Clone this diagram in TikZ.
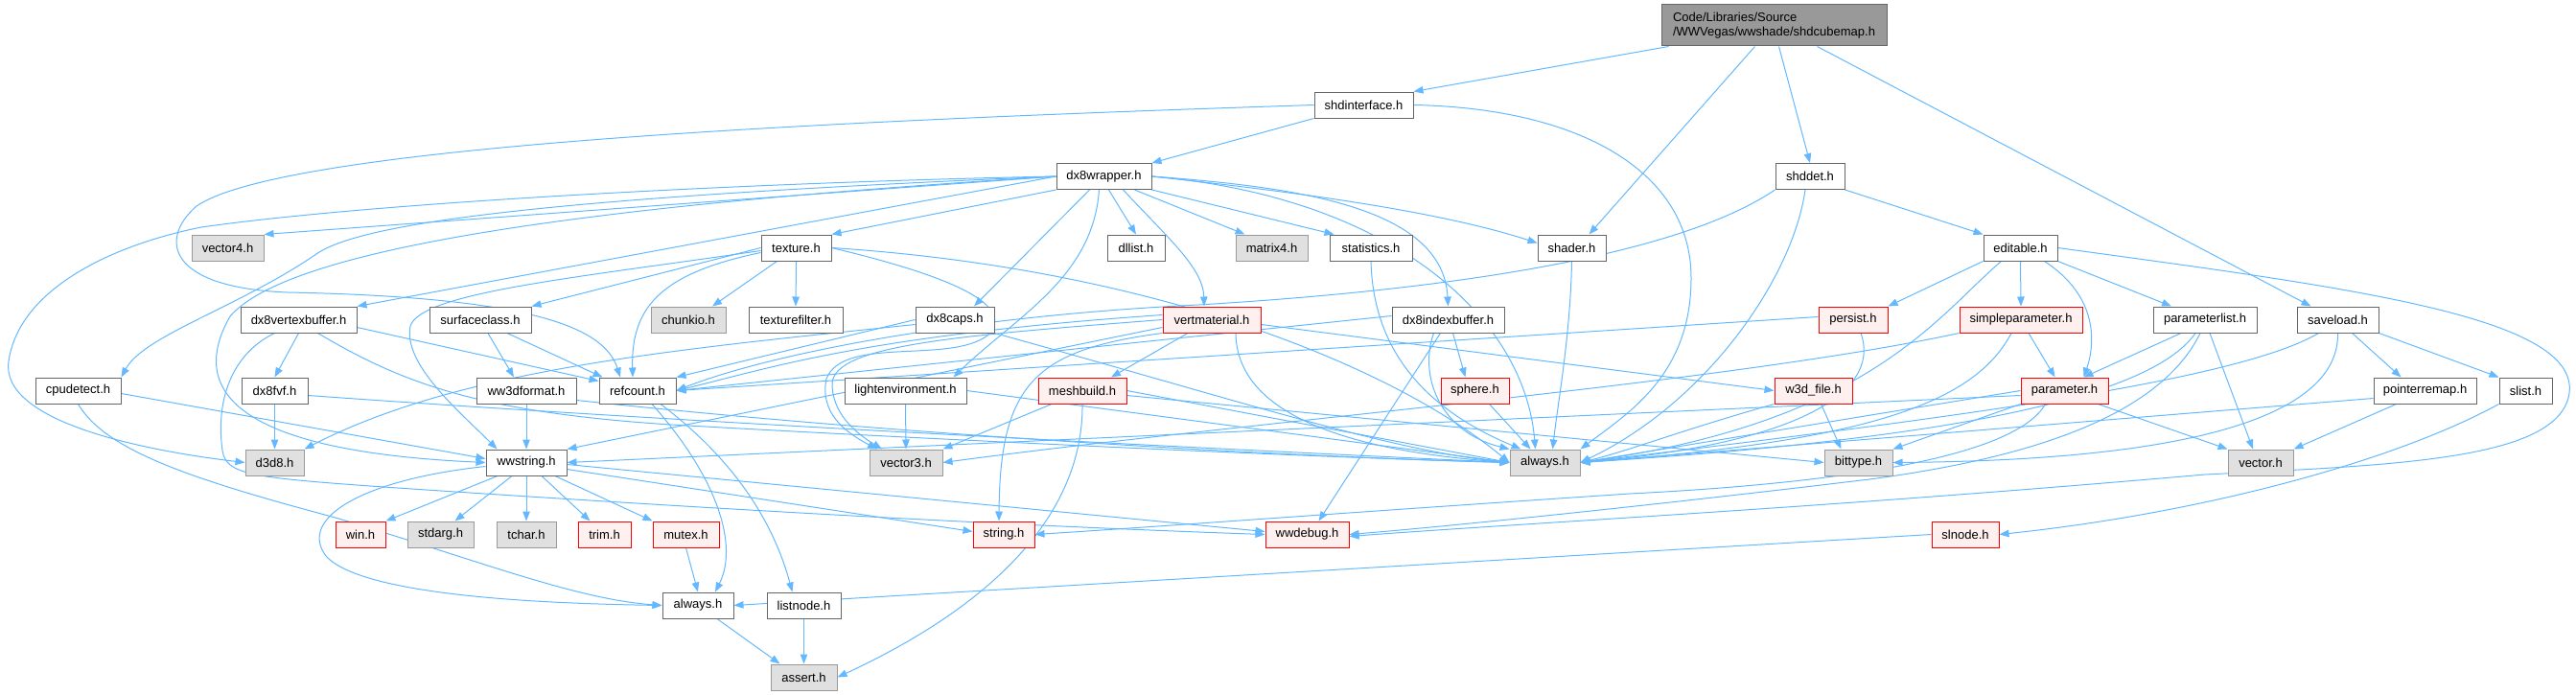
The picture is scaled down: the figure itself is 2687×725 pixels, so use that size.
\documentclass[tikz,border=0pt]{standalone}
\usepackage{fontspec}
\setmainfont{Liberation Sans}
\usetikzlibrary{arrows.meta}
\definecolor{edgec}{HTML}{63B8FF}
\definecolor{bdw}{HTML}{666666}
\definecolor{bdg}{HTML}{999999}
\definecolor{fgr}{HTML}{E0E0E0}
\definecolor{fre}{HTML}{FFF0F0}
\definecolor{rootf}{HTML}{999999}
\pgfdeclarelayer{bg}
\pgfsetlayers{bg,main}
\tikzset{
  base/.style={rectangle, inner sep=0pt, minimum height=27pt, line width=1pt, font=\fontsize{13}{15}\selectfont, text=black},
  nw/.style={base, draw=bdw, fill=white},
  ng/.style={base, draw=bdg, fill=fgr},
  nr/.style={base, draw=red, fill=fre},
  e/.style={draw=edgec, line width=1pt, -{Triangle[length=10pt,width=7.5pt]}},
}
\begin{document}
\begin{tikzpicture}[x=1pt,y=-1pt]
\useasboundingbox (0,0) rectangle (2687,725);
% row 0
\node[base, draw=bdw, fill=rootf, minimum width=235pt, minimum height=43pt, align=left] (root) at (1850.5,26.5) {Code/Libraries/Source\\/WWVegas/wwshade/shdcubemap.h};
% row 1
\node[nw, minimum width=103pt] (shdinterface) at (1422.5,109.5) {shdinterface.h};
% row 2
\node[nw, minimum width=99pt] (dx8wrapper) at (1151.5,184) {dx8wrapper.h};
\node[nw, minimum width=72pt] (shddet) at (1888,184) {shddet.h};
% row 3
\node[ng, minimum width=75pt] (vector4) at (237.5,258.5) {vector4.h};
\node[nw, minimum width=73pt] (texture) at (830.5,258.5) {texture.h};
\node[nw, minimum width=60pt] (dllist) at (1185,258.5) {dllist.h};
\node[ng, minimum width=75pt] (matrix4) at (1326.5,258.5) {matrix4.h};
\node[nw, minimum width=86pt] (statistics) at (1430,258.5) {statistics.h};
\node[nw, minimum width=71pt] (shader) at (1639.5,258.5) {shader.h};
\node[nw, minimum width=77pt] (editable) at (2107.5,258.5) {editable.h};
% row 4
\node[nw, minimum width=121pt] (dx8vertexbuffer) at (311.5,333.5) {dx8vertexbuffer.h};
\node[nw, minimum width=106pt] (surfaceclass) at (501,333.5) {surfaceclass.h};
\node[ng, minimum width=78pt] (chunkio) at (718,333.5) {chunkio.h};
\node[nw, minimum width=98pt] (texturefilter) at (830,333.5) {texturefilter.h};
\node[nw, minimum width=82pt] (dx8caps) at (996,333.5) {dx8caps.h};
\node[nr, minimum width=102pt] (vertmaterial) at (1264,333.5) {vertmaterial.h};
\node[nw, minimum width=117pt] (dx8indexbuffer) at (1510.5,333.5) {dx8indexbuffer.h};
\node[nr, minimum width=72pt] (persist) at (1933,333.5) {persist.h};
\node[nr, minimum width=128pt] (simpleparameter) at (2108,333.5) {simpleparameter.h};
\node[nw, minimum width=108pt] (parameterlist) at (2300,333.5) {parameterlist.h};
\node[nw, minimum width=85pt] (saveload) at (2438.5,333.5) {saveload.h};
% row 5
\node[nw, minimum width=89pt] (cpudetect) at (81.5,407.5) {cpudetect.h};
\node[nw, minimum width=69pt] (dx8fvf) at (286.5,407.5) {dx8fvf.h};
\node[nw, minimum width=104pt] (ww3dformat) at (549,407.5) {ww3dformat.h};
\node[nw, minimum width=80pt] (refcount) at (665,407.5) {refcount.h};
\node[nw, minimum width=127pt] (lightenvironment) at (944.5,407.5) {lightenvironment.h};
\node[nr, minimum width=92pt] (meshbuild) at (1129,407.5) {meshbuild.h};
\node[nr, minimum width=71pt] (sphere) at (1538.5,407.5) {sphere.h};
\node[nr, minimum width=81pt] (w3dfile) at (1891.5,407.5) {w3d\_file.h};
\node[nr, minimum width=91pt] (parameter) at (2153.5,407.5) {parameter.h};
\node[nw, minimum width=107pt] (pointerremap) at (2529.5,407.5) {pointerremap.h};
\node[nw, minimum width=55pt] (slist) at (2634.5,407.5) {slist.h};
% row 6
\node[ng, minimum width=61pt] (d3d8) at (286.5,482.5) {d3d8.h};
\node[nw, minimum width=84pt] (wwstring) at (549,482.5) {wwstring.h};
\node[ng, minimum width=76pt] (vector3) at (945,482.5) {vector3.h};
\node[ng, minimum width=73pt] (alwaysG) at (1611.5,482.5) {always.h};
\node[ng, minimum width=71pt] (bittype) at (1938.5,482.5) {bittype.h};
\node[ng, minimum width=68pt] (vector) at (2358,482.5) {vector.h};
% row 7
\node[nr, minimum width=52pt] (win) at (376,557.5) {win.h};
\node[ng, minimum width=69pt] (stdarg) at (459.5,557.5) {stdarg.h};
\node[ng, minimum width=62pt] (tchar) at (549,557.5) {tchar.h};
\node[nr, minimum width=55pt] (trim) at (630.5,557.5) {trim.h};
\node[nr, minimum width=69pt] (mutex) at (715.5,557.5) {mutex.h};
\node[nr, minimum width=64pt] (string) at (1047,557.5) {string.h};
\node[nr, minimum width=87pt] (wwdebug) at (1363.5,557.5) {wwdebug.h};
\node[nr, minimum width=70pt] (slnode) at (2050,557.5) {slnode.h};
% row 8
\node[nw, minimum width=74pt] (alwaysW) at (728,631.5) {always.h};
\node[nw, minimum width=77pt] (listnode) at (838.5,631.5) {listnode.h};
% row 9
\node[ng, minimum width=69pt] (assert) at (838.5,706.5) {assert.h};

\begin{pgfonlayer}{bg}
% root
\draw[e] ([xshift=-110pt]root.south) -- (shdinterface.north east);
\draw[e] ([xshift=-20pt]root.south) -- ([xshift=18pt]shader.north);
\draw[e] ([xshift=5pt]root.south) -- (shddet.north);
\draw[e] ([xshift=45pt]root.south) -- ([xshift=-28pt]saveload.north);
% shdinterface
\draw[e] (shdinterface.south west) -- (dx8wrapper.north east);
\draw[e] (shdinterface.west) .. controls (900,125) and (300,150) .. (205,215) .. controls (165,250) and (175,300) .. (300,305) .. controls (550,310) and (630,340) .. ([xshift=-18pt]refcount.north);
\draw[e] (shdinterface.east) .. controls (1650,113) and (1764,180) .. (1764,290) .. controls (1764,390) and (1700,430) .. (alwaysG.north east);
% shddet
\draw[e] (shddet.south east) -- (editable.north west);
\draw[e] ([xshift=-5pt]shddet.south) .. controls (1870,290) and (1780,420) .. (alwaysG.east);
\draw[e] (shddet.south west) .. controls (1760,260) and (1550,300) .. (1250,318) .. controls (1000,330) and (800,370) .. (refcount.east);
% dx8wrapper
\draw[e] (dx8wrapper.west) -- (vector4.north east);
\draw[e] (dx8wrapper.west) .. controls (800,190) and (400,210) .. (210,237) .. controls (120,255) and (20,300) .. (9,377) .. controls (0,440) and (150,470) .. (d3d8.west);
\draw[e] (dx8wrapper.west) .. controls (600,205) and (380,230) .. (330,265) .. controls (250,320) and (150,350) .. (cpudetect.north east);
\draw[e] (dx8wrapper.west) .. controls (600,215) and (300,260) .. (240,330) .. controls (200,400) and (230,470) .. (wwstring.west);
\draw[e] (dx8wrapper.west) -- (dx8vertexbuffer.north east);
\draw[e] (dx8wrapper.south west) -- (texture.north east);
\draw[e] ([xshift=-15pt]dx8wrapper.south) -- ([xshift=20pt]dx8caps.north);
\draw[e] ([xshift=-5pt]dx8wrapper.south) .. controls (1140,290) and (1060,330) .. ([xshift=50pt]lightenvironment.north);
\draw[e] ([xshift=5pt]dx8wrapper.south) -- (dllist.north);
\draw[e] ([xshift=20pt]dx8wrapper.south) .. controls (1220,250) and (1255,280) .. ([xshift=-8pt]vertmaterial.north);
\draw[e] ([xshift=-18pt]dx8wrapper.south east) -- ([xshift=10pt]matrix4.north west);
\draw[e] (dx8wrapper.south east) -- ([xshift=5pt]statistics.north west);
\draw[e] (dx8wrapper.east) .. controls (1350,200) and (1500,220) .. ([yshift=5pt]shader.west);
\draw[e] (dx8wrapper.east) .. controls (1350,195) and (1505,215) .. (dx8indexbuffer.north);
\draw[e] (dx8wrapper.east) .. controls (1450,205) and (1590,330) .. ([xshift=-10pt]alwaysG.north);
% texture
\draw[e] (texture.west) -- (surfaceclass.north east);
\draw[e] ([xshift=-20pt]texture.south) -- ([xshift=25pt]chunkio.north);
\draw[e] (texture.south) -- (texturefilter.north);
\draw[e] ([yshift=-5pt]texture.west) .. controls (690,285) and (658,320) .. ([xshift=-5pt]refcount.north);
\draw[e] ([yshift=-3pt]texture.west) .. controls (600,290) and (440,305) .. (428,340) .. controls (420,380) and (480,430) .. ([xshift=12pt]wwstring.north west);
\draw[e] (texture.east) .. controls (1000,290) and (1060,320) .. (1030,350) .. controls (990,380) and (880,350) .. (862,395) .. controls (855,430) and (880,450) .. ([xshift=-30pt]vector3.north);
\draw[e] (texture.east) .. controls (1200,280) and (1450,380) .. (alwaysG.west);
% surfaceclass
\draw[e] ([xshift=8pt]surfaceclass.south) -- ([xshift=-13pt]ww3dformat.north);
\draw[e] ([xshift=28pt]surfaceclass.south) -- ([xshift=4pt]refcount.north west);
% dx8vertexbuffer
\draw[e] (dx8vertexbuffer.south) -- (dx8fvf.north);
\draw[e] ([yshift=-8pt]dx8vertexbuffer.east) -- ([yshift=-4pt]refcount.north west);
\draw[e] ([xshift=20pt]dx8vertexbuffer.south) .. controls (420,400) and (500,430) .. (700,443) .. controls (1000,460) and (1400,478) .. (alwaysG.west);
\draw[e] ([xshift=-25pt]dx8vertexbuffer.south) .. controls (240,370) and (225,420) .. (232,470) .. controls (236,495) and (260,498) .. (400,508) .. controls (800,535) and (1100,550) .. (wwdebug.west);
% dx8fvf
\draw[e] (dx8fvf.south) -- (d3d8.north);
\draw[e] ([yshift=-5pt]dx8fvf.east) .. controls (700,440) and (1300,470) .. (alwaysG.west);
% cpudetect
\draw[e] ([yshift=-3pt]cpudetect.east) -- ([yshift=4pt]wwstring.west);
\draw[e] (cpudetect.south) .. controls (110,470) and (200,500) .. (350,540) .. controls (500,585) and (600,625) .. (alwaysW.west);
% ww3dformat
\draw[e] (ww3dformat.south) -- (wwstring.north);
\draw[e] ([yshift=-10pt]ww3dformat.east) .. controls (900,450) and (1300,475) .. (alwaysG.west);
% refcount
\draw[e] ([xshift=15pt]refcount.south) .. controls (750,500) and (770,570) .. ([xshift=18pt]alwaysW.north);
\draw[e] ([xshift=24pt]refcount.south) .. controls (740,460) and (800,520) .. ([xshift=-12pt]listnode.north);
% wwstring
\draw[e] ([xshift=-30pt]wwstring.south) -- (win.north east);
\draw[e] ([xshift=-15pt]wwstring.south) -- ([xshift=15pt]stdarg.north);
\draw[e] (wwstring.south) -- (tchar.north);
\draw[e] ([xshift=16pt]wwstring.south) -- ([xshift=-15pt]trim.north);
\draw[e] ([xshift=30pt]wwstring.south) -- (mutex.north west);
\draw[e] ([yshift=-7pt]wwstring.east) -- ([yshift=3pt]string.west);
\draw[e] ([yshift=-2pt]wwstring.east) -- ([yshift=3pt]wwdebug.west);
\draw[e] ([yshift=-4pt]wwstring.west) .. controls (380,500) and (310,540) .. (340,580) .. controls (380,625) and (600,630) .. (alwaysW.west);
% mutex, always, listnode
\draw[e] (mutex.south) -- (alwaysW.north);
\draw[e] ([xshift=20pt]alwaysW.south) -- ([xshift=-25pt]assert.north);
\draw[e] (listnode.south) -- (assert.north);
% dx8caps
\draw[e] ([yshift=-5pt]dx8caps.west) .. controls (700,365) and (480,385) .. (d3d8.north east);
\draw[e] (dx8caps.west) -- (refcount.north east);
\draw[e] (dx8caps.south east) .. controls (1300,420) and (1450,470) .. (alwaysG.west);
% vertmaterial
\draw[e] ([xshift=-25pt]vertmaterial.south) -- ([xshift=30pt]meshbuild.north);
\draw[e] (vertmaterial.south west) .. controls (1080,365) and (1043,400) .. ([xshift=-5pt]string.north);
\draw[e] ([yshift=-5pt]vertmaterial.east) -- (w3dfile.west);
\draw[e] ([yshift=5pt]vertmaterial.west) .. controls (900,350) and (800,385) .. (refcount.east);
\draw[e] (vertmaterial.west) .. controls (1000,350) and (870,360) .. (868,400) .. controls (868,430) and (890,450) .. ([xshift=-25pt]vector3.north);
\draw[e] ([yshift=-8pt]vertmaterial.west) -- (wwstring.north east);
\draw[e] ([xshift=25pt]vertmaterial.south) .. controls (1290,430) and (1400,470) .. (alwaysG.west);
% lightenvironment
\draw[e] (lightenvironment.south) -- (vector3.north);
\draw[e] (lightenvironment.east) -- (alwaysG.west);
% meshbuild
\draw[e] ([xshift=-32pt]meshbuild.south) -- (vector3.north east);
\draw[e] (meshbuild.east) -- (alwaysG.west);
\draw[e] ([yshift=-5pt]meshbuild.east) -- (bittype.west);
\draw[e] (meshbuild.south) .. controls (1130,520) and (1060,620) .. (assert.east);
% dx8indexbuffer
\draw[e] ([xshift=5pt]dx8indexbuffer.south) -- ([xshift=-10pt]sphere.north);
\draw[e] ([xshift=-8pt]dx8indexbuffer.south) -- ([xshift=12pt]wwdebug.north);
\draw[e] ([xshift=-15pt]dx8indexbuffer.south) .. controls (1480,390) and (1500,450) .. (alwaysG.north west);
\draw[e] ([yshift=4pt]dx8indexbuffer.west) -- (refcount.east);
% sphere, shader, statistics
\draw[e] ([xshift=15pt]sphere.south) -- ([xshift=-15pt]alwaysG.north);
\draw[e] (shader.south) .. controls (1638,350) and (1625,420) .. ([xshift=8pt]alwaysG.north);
\draw[e] (statistics.south) .. controls (1432,350) and (1470,420) .. ([xshift=-25pt]alwaysG.north);
% w3d_file
\draw[e] ([xshift=8pt]w3dfile.south) -- ([xshift=-18pt]bittype.north);
\draw[e] (w3dfile.south west) .. controls (1750,450) and (1700,470) .. (alwaysG.east);
% persist
\draw[e] ([yshift=3pt]persist.west) -- (refcount.east);
\draw[e] ([xshift=8pt]persist.south) .. controls (1960,400) and (1900,460) .. (alwaysG.east);
% editable
\draw[e] (editable.south west) -- (persist.north east);
\draw[e] (editable.south) -- (simpleparameter.north);
\draw[e] ([xshift=25pt]editable.south) .. controls (2190,310) and (2185,360) .. ([xshift=20pt]parameter.north);
\draw[e] (editable.south east) -- ([xshift=-35pt]parameterlist.north);
\draw[e] ([xshift=-20pt]editable.south) .. controls (2020,330) and (1950,440) .. (alwaysG.east);
\draw[e] (editable.east) .. controls (2450,300) and (2690,330) .. (2680,410) .. controls (2670,480) and (2500,485) .. (2300,495) .. controls (1900,530) and (1600,545) .. ([yshift=-2pt]wwdebug.east);
% simpleparameter
\draw[e] ([xshift=8pt]simpleparameter.south) -- ([xshift=-10pt]parameter.north);
\draw[e] (simpleparameter.south west) .. controls (1800,400) and (1300,440) .. (vector3.east);
\draw[e] ([xshift=-10pt]simpleparameter.south) .. controls (2060,420) and (1950,460) .. (alwaysG.east);
% parameterlist
\draw[e] ([xshift=-25pt]parameterlist.south) -- ([xshift=20pt]parameter.north);
\draw[e] ([xshift=-10pt]parameterlist.south) .. controls (2240,420) and (2000,460) .. (alwaysG.east);
\draw[e] ([xshift=5pt]parameterlist.south) -- ([xshift=-8pt]vector.north);
\draw[e] ([xshift=-5pt]parameterlist.south) .. controls (2250,440) and (2100,480) .. (1950,500) .. controls (1700,530) and (1500,550) .. (wwdebug.east);
% parameter
\draw[e] (parameter.west) -- (alwaysG.east);
\draw[e] (parameter.south west) -- (bittype.north east);
\draw[e] ([xshift=35pt]parameter.south) -- (vector.north west);
\draw[e] ([yshift=-5pt]parameter.west) -- (wwstring.east);
\draw[e] ([xshift=-20pt]parameter.south) .. controls (2100,480) and (1900,505) .. (1700,515) .. controls (1400,535) and (1200,550) .. (string.east);
% saveload
\draw[e] ([xshift=15pt]saveload.south) -- ([xshift=-25pt]pointerremap.north);
\draw[e] (saveload.south east) -- (slist.north west);
\draw[e] ([xshift=-20pt]saveload.south) .. controls (2330,400) and (2000,440) .. (alwaysG.east);
\draw[e] (saveload.south) .. controls (2440,430) and (2300,480) .. (bittype.east);
% pointerremap, slist, slnode
\draw[e] ([xshift=-30pt]pointerremap.south) -- (vector.north east);
\draw[e] ([yshift=-8pt]pointerremap.west) -- (alwaysG.east);
\draw[e] (slist.south west) .. controls (2500,480) and (2300,535) .. (slnode.east);
\draw[e] (slnode.west) -- (alwaysW.east);
\end{pgfonlayer}
\end{tikzpicture}
\end{document}
